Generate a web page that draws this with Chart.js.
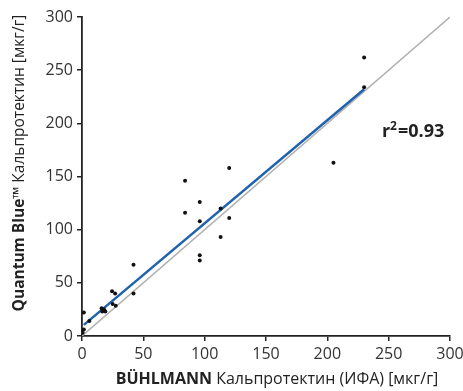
<!DOCTYPE html>
<html>
<head>
<meta charset="utf-8">
<script src="https://cdn.jsdelivr.net/npm/chart.js@4.4.1/dist/chart.umd.min.js"></script>
<style>
  html, body { margin: 0; padding: 0; background: #fff; }
  #wrap { width: 463px; height: 391px; }
</style>
</head>
<body>
<div id="wrap"><canvas id="chart"></canvas></div>
<script>
// BÜHLMANN ELISA vs Quantum Blue values (мкг/г)
const buhlmann = [230, 230, 205, 120, 84, 96, 84, 113, 120, 96, 113, 96, 96, 42, 42, 24.5, 27, 25, 27.5, 16, 18, 16.5, 19, 1.5, 6, 1.5, 0.5];
const quantum  = [262, 234, 163, 158, 146, 126, 116, 120, 111, 108, 93, 76, 71, 67, 40, 42, 40, 30, 28.5, 26, 25, 23, 23, 22, 14, 6, 3];

// regression fit and identity line
const fitX = [1.5, 230];
const fitY = [10.5, 232];
const refX = [0, 300];
const refY = [0, 300];

const ticks = [0, 50, 100, 150, 200, 250, 300];
const r2 = "0.93";

const toPts = (xs, ys) => xs.map((v, i) => ({ x: v, y: ys[i] }));

const FONT = '"Open Sans", "DejaVu Sans", sans-serif';

const textPlugin = {
  id: "texts",
  afterDraw(chart) {
    const ctx = chart.ctx;
    const xs = chart.scales.x, ys = chart.scales.y;
    ctx.save();
    ctx.fillStyle = "#222";
    ctx.textBaseline = "middle";

    // x title: bold part + normal part
    const b1 = "BÜHLMANN", n1 = " Кальпротектин (ИФА) [мкг/г]";
    ctx.font = "bold 16px " + FONT;
    const wb = ctx.measureText(b1).width;
    ctx.font = "16px " + FONT;
    const wn = ctx.measureText(n1).width;
    let sx = 277 - (wb + wn) / 2;
    ctx.textAlign = "left";
    ctx.font = "bold 16px " + FONT;
    ctx.fillText(b1, sx, 379);
    ctx.font = "16px " + FONT;
    ctx.fillText(n1, sx + wb, 379);

    // y title rotated
    const b2 = "Quantum Blue\u2122", n2 = " Кальпротектин [мкг/г]";
    ctx.translate(20, 163);
    ctx.rotate(-Math.PI / 2);
    ctx.font = "bold 15.5px " + FONT;
    const wb2 = ctx.measureText(b2).width;
    ctx.font = "15.5px " + FONT;
    const wn2 = ctx.measureText(n2).width;
    let sy = -(wb2 + wn2) / 2;
    ctx.font = "bold 15.5px " + FONT;
    ctx.fillText(b2, sy, 0);
    ctx.font = "15.5px " + FONT;
    ctx.fillText(n2, sy + wb2, 0);
    ctx.restore();

    // r² label
    ctx.save();
    ctx.fillStyle = "#222";
    ctx.textBaseline = "alphabetic";
    ctx.textAlign = "left";
    const px = xs.getPixelForValue(244.5), py = ys.getPixelForValue(187);
    ctx.font = "bold 18px " + FONT;
    ctx.fillText("r", px, py);
    const wr = ctx.measureText("r").width;
    ctx.font = "bold 12px " + FONT;
    ctx.fillText("2", px + wr, py - 7);
    const w2 = ctx.measureText("2").width;
    ctx.font = "bold 18px " + FONT;
    ctx.fillText("=" + r2, px + wr + w2 + 1, py);
    ctx.restore();
  }
};

const axisCommon = {
  type: "linear",
  min: 0,
  max: 300,
  afterBuildTicks: (s) => { s.ticks = ticks.map(v => ({ value: v })); },
  grid: { display: true, drawOnChartArea: false, drawTicks: true, tickLength: 5, color: "#222", lineWidth: 1.5 },
  border: { display: true, color: "#222", width: 1.8 },
  title: { display: false }
};

new Chart(document.getElementById("chart"), {
  type: "scatter",
  data: {
    datasets: [
      {
        label: "identity",
        type: "line",
        data: toPts(refX, refY),
        borderColor: "#b0b0b0",
        borderWidth: 1.5,
        pointRadius: 0,
        order: 3
      },
      {
        label: "fit",
        type: "line",
        data: toPts(fitX, fitY),
        borderColor: "#2062ad",
        borderWidth: 2.5,
        pointRadius: 0,
        order: 2
      },
      {
        label: "samples",
        data: toPts(buhlmann, quantum),
        backgroundColor: "#111",
        borderColor: "#111",
        pointRadius: 2,
        pointBorderWidth: 0,
        order: 1
      }
    ]
  },
  options: {
    responsive: true,
    maintainAspectRatio: false,
    animation: false,
    layout: { padding: { top: 17, right: 13, left: 0, bottom: 0 } },
    plugins: { legend: { display: false }, tooltip: { enabled: false } },
    scales: {
      x: {
        ...axisCommon,
        position: "bottom",
        ticks: { color: "#333", font: { size: 16, family: FONT }, padding: 4, maxRotation: 0 },
        afterFit: (s) => { s.height = 55; s.paddingRight = 0; s.paddingLeft = 0; }
      },
      y: {
        ...axisCommon,
        position: "left",
        ticks: { color: "#333", font: { size: 16, family: FONT }, padding: 4 },
        afterFit: (s) => { s.width = 82; s.paddingTop = 0; s.paddingBottom = 0; }
      }
    }
  },
  plugins: [textPlugin]
});
</script>
</body>
</html>
